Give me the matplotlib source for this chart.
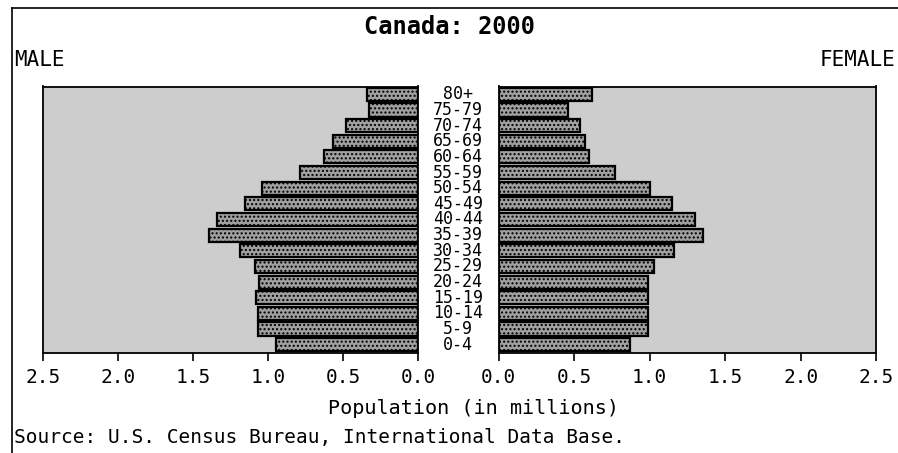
import matplotlib
matplotlib.use("Agg")
import matplotlib.pyplot as plt
from matplotlib.lines import Line2D
from matplotlib.transforms import blended_transform_factory

age_groups = ["0-4", "5-9", "10-14", "15-19", "20-24", "25-29", "30-34", "35-39",
              "40-44", "45-49", "50-54", "55-59", "60-64", "65-69", "70-74", "75-79", "80+"]
male = [0.95, 1.07, 1.07, 1.08, 1.06, 1.09, 1.19, 1.39, 1.34, 1.155, 1.04, 0.79,
        0.63, 0.57, 0.48, 0.33, 0.34]
female = [0.87, 0.99, 0.99, 0.99, 0.99, 1.03, 1.16, 1.35, 1.30, 1.15, 1.00, 0.77,
          0.60, 0.57, 0.54, 0.46, 0.62]
ticks = [0.0, 0.5, 1.0, 1.5, 2.0, 2.5]
tick_labels = ["0.0", "0.5", "1.0", "1.5", "2.0", "2.5"]

W, H = 898, 453
plt.rcParams["hatch.color"] = "#5a5a5a"
fig = plt.figure(figsize=(W / 100, H / 100), dpi=100)
fig.patch.set_facecolor("white")
mono = "DejaVu Sans Mono"

def fx(px):
    return px / W

def fy(py):
    return 1 - py / H

top_px, bot_px = 86.5, 352.5
axL = fig.add_axes([fx(42.7), fy(bot_px), fx(418.3 - 42.7), (bot_px - top_px) / H])
axR = fig.add_axes([fx(498.7), fy(bot_px), fx(876.3 - 498.7), (bot_px - top_px) / H])

bg = "#cdcdcd"
barc = "#a0a0a0"
ypos = list(range(len(age_groups)))
for ax, vals in ((axL, male), (axR, female)):
    ax.set_facecolor(bg)
    ax.barh(ypos, vals, height=0.84, color=barc, edgecolor="black", linewidth=1.6,
            hatch="....", zorder=2)
    ax.set_xlim(0, 2.5)
    ax.set_ylim(-0.5, len(age_groups) - 0.5)
    ax.set_yticks([])
    ax.set_xticks(ticks)
    ax.set_xticklabels(tick_labels, fontfamily=mono, fontsize=14)
    ax.tick_params(axis="x", direction="out", length=6, width=1.2, pad=5)
    for s in ax.spines.values():
        s.set_linewidth(1.3)
axL.invert_xaxis()

trans = blended_transform_factory(axL.transAxes, axL.transData)
cx = (458 - 42.7) / (418.3 - 42.7)
for i, lab in enumerate(age_groups):
    axL.text(cx, i, lab, transform=trans, ha="center", va="center",
             fontfamily=mono, fontsize=12, clip_on=False)

fig.text(fx(450), fy(27), "Canada: 2000", ha="center", va="center",
         fontfamily=mono, fontsize=17, fontweight="bold")
fig.text(fx(14), fy(60), "MALE", ha="left", va="center", fontfamily=mono, fontsize=15)
fig.text(fx(895), fy(60), "FEMALE", ha="right", va="center", fontfamily=mono, fontsize=15)
fig.text(fx(473), fy(408), "Population (in millions)", ha="center", va="center",
         fontfamily=mono, fontsize=14.5)
fig.text(fx(14), fy(437), "Source: U.S. Census Bureau, International Data Base.",
         ha="left", va="center", fontfamily=mono, fontsize=14)

fig.add_artist(Line2D([fx(12), fx(12)], [fy(8), 0], color="black", linewidth=1.2))
fig.add_artist(Line2D([fx(12), 1], [fy(8), fy(8)], color="black", linewidth=1.2))

fig.savefig("out.png", dpi=100)
